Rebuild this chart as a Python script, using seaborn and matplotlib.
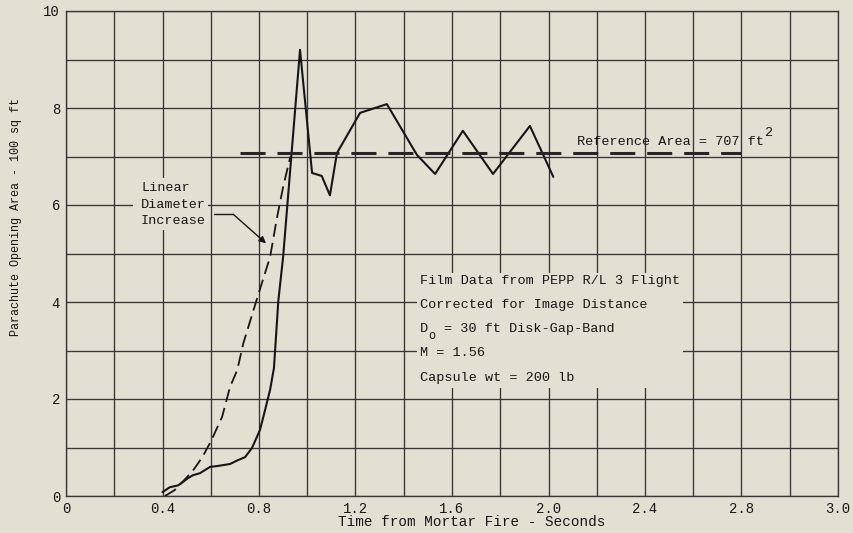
import numpy as np
import pandas as pd
import seaborn as sns
import matplotlib
matplotlib.use("Agg")
import matplotlib.pyplot as plt
from matplotlib.ticker import MultipleLocator, FixedLocator, FixedFormatter
from matplotlib.patches import Rectangle

# ---------------- data ----------------
# measured opening area (100 sq ft) vs time from mortar fire (s)
film_time = [0.40, 0.43, 0.465, 0.485, 0.506, 0.527, 0.555, 0.597, 0.63, 0.68,
             0.713, 0.742, 0.771, 0.804, 0.825, 0.846, 0.862, 0.88, 0.90, 0.97,
             1.02, 1.06, 1.094, 1.123, 1.219, 1.33, 1.455, 1.53, 1.645, 1.77,
             1.923, 2.02]
film_area = [0.08, 0.18, 0.22, 0.29, 0.37, 0.43, 0.47, 0.60, 0.62, 0.66,
             0.74, 0.80, 0.99, 1.36, 1.77, 2.19, 2.64, 4.02, 4.93, 9.20,
             6.66, 6.60, 6.20, 7.07, 7.90, 8.08, 7.03, 6.64, 7.53, 6.64,
             7.63, 6.58]

# linear diameter increase curve
lin_time = [0.41, 0.45, 0.50, 0.53, 0.565, 0.60, 0.647, 0.68, 0.71, 0.735,
            0.79, 0.846, 0.875, 0.90, 0.93]
lin_area = [0.00, 0.12, 0.38, 0.55, 0.80, 1.12, 1.63, 2.25, 2.60, 3.15,
            4.04, 4.93, 5.75, 6.37, 7.00]

# reference area line
ref_time = [0.72, 2.80]
ref_area = [7.07, 7.07]

xtick_values = [0.0, 0.4, 0.8, 1.2, 1.6, 2.0, 2.4, 2.8, 3.2]
xtick_labels = ["0", "0.4", "0.8", "1.2", "1.6", "2.0", "2.4", "2.8", "3.0"]
ytick_values = [0, 2, 4, 6, 8, 10]
ytick_labels = ["0", "2", "4", "6", "8", "10"]

info_lines = ["Film Data from PEPP R/L 3 Flight",
              "Corrected for Image Distance",
              "D",
              "M = 1.56",
              "Capsule wt = 200 lb"]
do_rest = "= 30 ft Disk-Gap-Band"
linear_label = ["Linear", "Diameter", "Increase"]

# ---------------- style ----------------
BG = "#e2e0d3"
INK = "#161616"
GRID = "#363636"
MONO = ["Liberation Mono", "DejaVu Sans Mono"]
FS = 9.7
CW = 0.6 * FS  # monospace advance, points

sns.set_theme(style="whitegrid", rc={
    "axes.facecolor": BG, "figure.facecolor": BG,
    "grid.color": GRID, "grid.linewidth": 0.95,
    "axes.edgecolor": GRID, "axes.linewidth": 0.95,
    "xtick.major.size": 0, "ytick.major.size": 0,
    "xtick.minor.size": 0, "ytick.minor.size": 0,
    "text.color": INK, "xtick.color": INK, "ytick.color": INK,
    "axes.labelcolor": INK,
})
plt.rcParams["font.family"] = MONO

fig = plt.figure(figsize=(8.54, 5.33), dpi=100)
ax = fig.add_axes([66 / 854, 1 - 496 / 533, (838 - 66) / 854, (496 - 11) / 533])

sns.lineplot(x=film_time, y=film_area, ax=ax, color=INK, lw=1.5,
             sort=False, estimator=None, zorder=3)
sns.lineplot(x=lin_time, y=lin_area, ax=ax, color=INK, lw=1.3,
             sort=False, estimator=None, linestyle=(0, (7.2, 3.4)), zorder=3)
sns.lineplot(x=ref_time, y=ref_area, ax=ax, color="#262626", lw=2.2,
             sort=False, estimator=None, linestyle=(0, (8.2, 3.9)), zorder=3)

ax.set_xlim(0, 3.2)
ax.set_ylim(0, 10)
ax.xaxis.set_major_locator(FixedLocator(xtick_values))
ax.xaxis.set_major_formatter(FixedFormatter(xtick_labels))
ax.yaxis.set_major_locator(FixedLocator(ytick_values))
ax.yaxis.set_major_formatter(FixedFormatter(ytick_labels))
ax.xaxis.set_minor_locator(MultipleLocator(0.2))
ax.yaxis.set_minor_locator(MultipleLocator(1))
ax.grid(True, which="both", color=GRID, lw=0.95)
ax.set_axisbelow(True)
ax.tick_params(axis="both", which="major", labelsize=10, pad=4.3)
for s in ax.spines.values():
    s.set_visible(True)
    s.set_color(GRID)
    s.set_linewidth(0.95)

ax.set_xlabel("Time from Mortar Fire - Seconds", fontsize=10.4)
ax.set_ylabel("Parachute Opening Area - 100 sq ft", fontsize=8.5)
ax.xaxis.set_label_coords(0.525, -0.040)
ax.yaxis.set_label_coords(-0.057, 0.575)

# info block
ax.add_patch(Rectangle((1.455, 2.227), 1.102, 2.373, facecolor=BG,
                       edgecolor="none", zorder=1))
info_y = [4.43, 3.94, 3.44, 2.95, 2.43]
TX = 1.467
for line, yy in zip(info_lines, info_y):
    ax.text(TX, yy, line, fontsize=FS, ha="left", va="center", zorder=4)
ax.annotate("o", xy=(TX, info_y[2]), xycoords="data",
            xytext=(CW, -5.0), textcoords="offset points",
            fontsize=8.5, ha="left", va="center", zorder=4)
ax.annotate(do_rest, xy=(TX, info_y[2]), xycoords="data",
            xytext=(3 * CW, 0), textcoords="offset points",
            fontsize=FS, ha="left", va="center", zorder=4)

# linear diameter label
ax.add_patch(Rectangle((0.278, 5.48), 0.31, 1.08, facecolor=BG,
                       edgecolor="none", zorder=1))
for line, yy in zip(linear_label, [6.35, 6.0, 5.67]):
    ax.text(0.311, yy, line, fontsize=FS, ha="left", va="center", zorder=4)
ax.plot([0.612, 0.693], [5.81, 5.81], color=INK, lw=1.0, zorder=4)
ax.annotate("", xy=(0.829, 5.21), xytext=(0.693, 5.81),
            arrowprops=dict(arrowstyle="-|>", color=INK, lw=1.0,
                            mutation_scale=10, shrinkA=0, shrinkB=0),
            zorder=4)

# reference label
ax.text(2.118, 7.30, "Reference Area = 707 ft", fontsize=FS, ha="left",
        va="center", zorder=4)
ax.annotate("2", xy=(2.118, 7.30), xycoords="data",
            xytext=(23 * CW + 0.5, 6.5), textcoords="offset points",
            fontsize=FS, ha="left", va="center", zorder=4)

fig.savefig("out.png", dpi=100, facecolor=BG)
